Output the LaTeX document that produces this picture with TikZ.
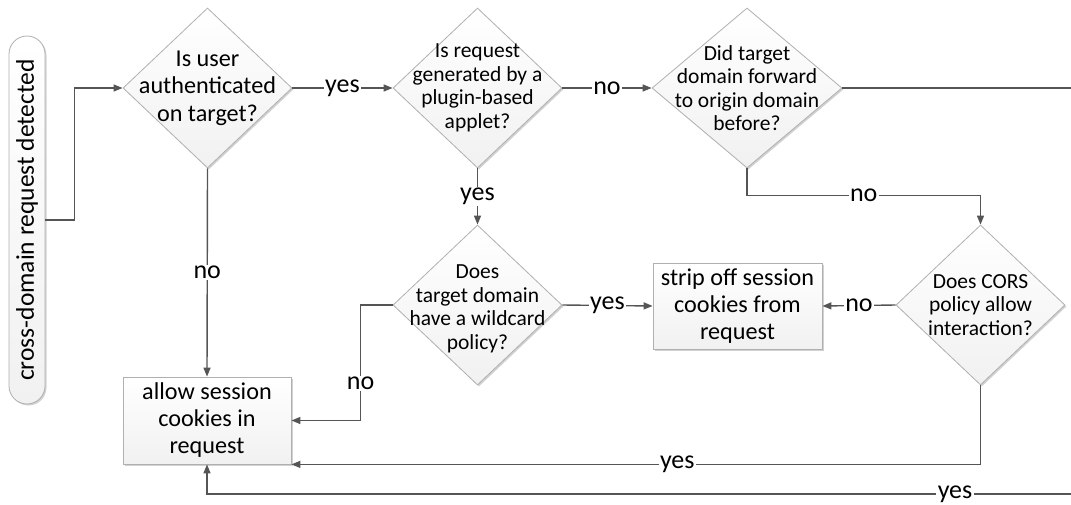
\documentclass[tikz,border=0pt]{standalone}
\usepackage{fontspec}
\setmainfont{Carlito}
\usetikzlibrary{shapes.geometric,arrows.meta,shadows}
\definecolor{linegray}{HTML}{555555}
\definecolor{bordergray}{HTML}{B0B0B0}
\begin{document}
\begin{tikzpicture}[x=1pt,y=-1pt,
  softshadow/.style={drop shadow={shadow xshift=1.5pt,shadow yshift=-1.5pt,opacity=0.18,fill=black}},
  decision/.style={diamond,draw=bordergray,line width=0.8pt,top color=white,bottom color=gray!11,
    minimum width=169pt,minimum height=160pt,inner sep=0pt,softshadow},
  qtext/.style={font=\fontsize{21.5}{23.5}\selectfont,align=center,inner sep=0pt},
  bigq/.style={font=\fontsize{24.2}{27.5}\selectfont,align=center,inner sep=0pt},
  actionbox/.style={rectangle,draw=bordergray,line width=0.8pt,top color=white,bottom color=gray!11,
    minimum width=168pt,minimum height=86pt,inner sep=0pt,align=center,
    font=\fontsize{24.2}{27}\selectfont,softshadow},
  startbox/.style={rectangle,rounded corners=18pt,draw=bordergray,line width=0.8pt,
    top color=white,bottom color=gray!11,minimum width=368pt,minimum height=36pt,inner sep=0pt,
    font=\fontsize{25.5}{29}\selectfont,softshadow},
  flow/.style={draw=linegray,line width=1.4pt,-{Triangle[length=9pt,width=7pt]}},
  lbl/.style={fill=white,inner sep=1.5pt,font=\fontsize{26}{30}\selectfont}
]
\useasboundingbox (0,0) rectangle (1071,505);
\clip (0,0) rectangle (1071,505);

% start terminal
\node[startbox,rotate=90] (start) at (27,220) {cross-domain request detected};

% decisions
\node[decision,label={[bigq]center:{Is user\\authenticated\\on target?}}] (auth) at (207.5,88) {};
\node[decision,label={[qtext]center:{Is request\\generated by a\\plugin-based\\applet?}}] (plugin) at (477.5,88) {};
\node[decision,minimum width=190pt,label={[qtext]center:{Did target\\domain forward\\to origin domain\\before?}}] (fwd) at (747,88) {};
\node[decision,label={[qtext,yshift=-4pt]center:{Does\\target domain\\have a wildcard\\policy?}}] (wild) at (477.5,305) {};
\node[decision,label={[qtext]center:{Does CORS\\policy allow\\interaction?}}] (cors) at (980.5,305) {};

% actions
\node[actionbox,minimum height=87pt] (allow) at (207,420.5) {allow session\\cookies in\\request};
\node[actionbox,minimum width=169pt] (strip) at (737.5,306) {strip off session\\cookies from\\request};

% routing point beyond the right margin
\coordinate (rim) at (1085,494);

% connectors
\draw[flow] (start.south) -- ++(29,0) |- (auth.west);
\draw[flow] (auth.east) -- node[lbl]{yes} (plugin.west);
\draw[flow] (plugin.east) -- node[lbl]{no} (fwd.west);
\draw[flow] (plugin.south) -- node[lbl]{yes} (wild.north);
\draw[flow] (fwd.south) -- ++(0,27) -| node[lbl,pos=0.25]{no} (cors.north);
\draw[flow] (cors.west) -- node[lbl]{no} (strip.east);
\draw[flow] (wild.east) -- node[lbl]{yes} (strip.west);
\draw[flow] (wild.west) -- ++(-32,0) |- node[lbl,pos=0.34]{no} (allow.east);
\draw[flow] (auth.south) -- node[lbl]{no} (allow.north);
\draw[flow] (cors.south) |- node[lbl,pos=0.72]{yes} (allow.south east);
\draw[flow] (fwd.east) -| (rim) -| node[lbl,pos=0.074]{yes} (allow.south);
\end{tikzpicture}
\end{document}
